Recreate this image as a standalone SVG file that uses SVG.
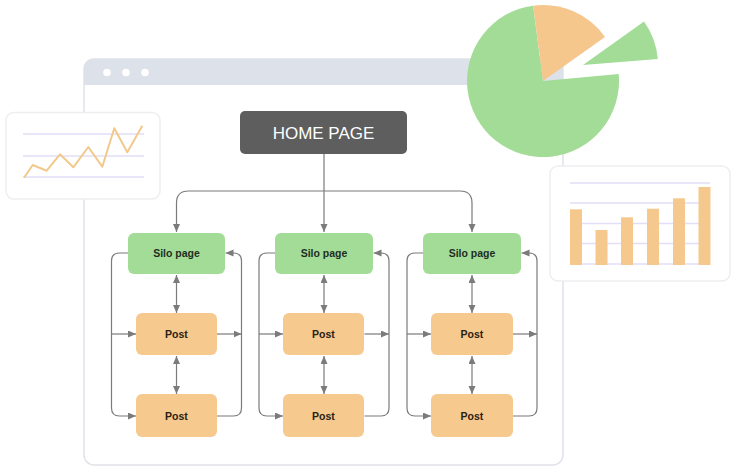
<svg xmlns="http://www.w3.org/2000/svg" width="736" height="472" viewBox="0 0 736 472">
<defs>
<marker id="ah" markerUnits="userSpaceOnUse" markerWidth="8" markerHeight="8" refX="8" refY="3.5" orient="auto-start-reverse"><path d="M0,0 L8,3.5 L0,7 z" fill="#7b7b7b"/></marker>
</defs>
<style>
.card{fill:#ffffff;stroke:#eeeef2;stroke-width:1.5}
.grid{stroke:#e2def8;stroke-width:1.6}
.bar{fill:#f5c98e}
.silo{fill:#a3dc97}
.post{fill:#f6c98e}
.lbl{font-family:"Liberation Sans",Arial,sans-serif;font-size:10.5px;font-weight:bold;text-anchor:middle}
.conn path{fill:none;stroke:#7b7b7b;stroke-width:1.2}
</style>
<!-- browser window -->
<g id="window">
<rect x="84" y="59" width="479" height="406" rx="10" fill="#ffffff" stroke="#dfe2e9" stroke-width="1.5"/>
<path d="M84,85 V69 Q84,59 94,59 H553 Q563,59 563,69 V85 Z" fill="#dde1ea"/>
<circle cx="107" cy="72.5" r="3.8" fill="#ffffff"/>
<circle cx="126" cy="72.5" r="3.8" fill="#ffffff"/>
<circle cx="145" cy="72.5" r="3.8" fill="#ffffff"/>
</g>
<!-- pie chart -->
<g id="pie">
<path d="M543,81 L618.7,74 A76,76 0 1 1 533.1,5.7 Z" fill="#a2dc96"/>
<path d="M543,81 L533.1,5.7 A76,76 0 0 1 605,37 Z" fill="#f5c78d"/>
<path d="M583,65 L644,21.5 A75,75 0 0 1 657.8,59 Z" fill="#a2dc96"/>
</g>
<!-- line chart card -->
<g id="line-chart">
<rect class="card" x="6" y="112.5" width="154" height="86.5" rx="8"/>
<line class="grid" x1="23" y1="134" x2="144" y2="134"/>
<line class="grid" x1="23" y1="156" x2="144" y2="156"/>
<line class="grid" x1="23" y1="177" x2="144" y2="177"/>
<polyline points="24,177.7 32.7,165 46.7,170.7 60,154.3 73.3,167.3 88.3,147 102.3,166.7 114.3,128.3 127.3,152.3 142.3,125.7" fill="none" stroke="#f2c98c" stroke-width="2" stroke-linejoin="round"/>
</g>
<!-- bar chart card -->
<g id="bar-chart">
<rect class="card" x="550" y="166" width="180" height="115" rx="8"/>
<line class="grid" x1="570" y1="183" x2="710" y2="183"/>
<line class="grid" x1="570" y1="203" x2="710" y2="203"/>
<line class="grid" x1="570" y1="223.5" x2="710" y2="223.5"/>
<line class="grid" x1="570" y1="243.5" x2="710" y2="243.5"/>
<line class="grid" x1="570" y1="264" x2="710" y2="264"/>
<rect class="bar" x="570" y="209.3" width="12" height="55.7"/>
<rect class="bar" x="595.5" y="230" width="12" height="35"/>
<rect class="bar" x="621" y="217.3" width="12" height="47.7"/>
<rect class="bar" x="647" y="208.7" width="12" height="56.3"/>
<rect class="bar" x="673" y="198.3" width="12" height="66.7"/>
<rect class="bar" x="698.5" y="187" width="12" height="78"/>
</g>
<!-- connectors -->
<g id="connectors" class="conn">
<path d="M324,154 V232" marker-end="url(#ah)"/>
<path d="M176.5,232 V203 Q176.5,191 188.5,191 H460 Q472,191 472,203 V232" marker-start="url(#ah)" marker-end="url(#ah)"/>
<!-- column 1 -->
<path d="M176.5,275 V313" marker-start="url(#ah)" marker-end="url(#ah)"/>
<path d="M176.5,356 V394" marker-start="url(#ah)" marker-end="url(#ah)"/>
<path d="M128,253 H119.5 Q111.5,253 111.5,261 V408 Q111.5,416 119.5,416 H136" marker-end="url(#ah)"/>
<path d="M111.5,334 H136" marker-end="url(#ah)"/>
<path d="M217,416 H233.5 Q241.5,416 241.5,408 V261 Q241.5,253 233.5,253 H225.5" marker-end="url(#ah)"/>
<path d="M217,334 H241.5" marker-end="url(#ah)"/>
<!-- column 2 -->
<path d="M324,275 V313" marker-start="url(#ah)" marker-end="url(#ah)"/>
<path d="M324,356 V394" marker-start="url(#ah)" marker-end="url(#ah)"/>
<path d="M275,253 H267 Q259,253 259,261 V408 Q259,416 267,416 H283" marker-end="url(#ah)"/>
<path d="M259,334 H283" marker-end="url(#ah)"/>
<path d="M364.5,416 H381 Q389,416 389,408 V261 Q389,253 381,253 H373.5" marker-end="url(#ah)"/>
<path d="M364.5,334 H389" marker-end="url(#ah)"/>
<!-- column 3 -->
<path d="M472,275 V313" marker-start="url(#ah)" marker-end="url(#ah)"/>
<path d="M472,356 V394" marker-start="url(#ah)" marker-end="url(#ah)"/>
<path d="M423,253 H415 Q407,253 407,261 V408 Q407,416 415,416 H431" marker-end="url(#ah)"/>
<path d="M407,334 H431" marker-end="url(#ah)"/>
<path d="M513,416 H529 Q537,416 537,408 V261 Q537,253 529,253 H521.5" marker-end="url(#ah)"/>
<path d="M513,334 H537" marker-end="url(#ah)"/>
</g>
<!-- nodes -->
<g id="home">
<rect x="240" y="111" width="167" height="43" rx="5" fill="#5e5e5e"/>
<text x="323.5" y="138.5" font-family="Liberation Sans,Arial,sans-serif" font-size="17" fill="#ffffff" text-anchor="middle">HOME PAGE</text>
</g>
<g id="silo1"><rect class="silo" x="128" y="233" width="97" height="41" rx="6"/><text class="lbl" x="176.5" y="257" fill="#1f2e1f">Silo page</text></g>
<g id="silo2"><rect class="silo" x="275" y="233" width="98" height="41" rx="6"/><text class="lbl" x="324" y="257" fill="#1f2e1f">Silo page</text></g>
<g id="silo3"><rect class="silo" x="423" y="233" width="98" height="41" rx="6"/><text class="lbl" x="472" y="257" fill="#1f2e1f">Silo page</text></g>
<g id="post1a"><rect class="post" x="136" y="313" width="81" height="42" rx="6"/><text class="lbl" x="176.5" y="338" fill="#2b2112">Post</text></g>
<g id="post1b"><rect class="post" x="136" y="394" width="81" height="43" rx="6"/><text class="lbl" x="176.5" y="419.5" fill="#2b2112">Post</text></g>
<g id="post2a"><rect class="post" x="283" y="313" width="81" height="42" rx="6"/><text class="lbl" x="323.5" y="338" fill="#2b2112">Post</text></g>
<g id="post2b"><rect class="post" x="283" y="394" width="81" height="43" rx="6"/><text class="lbl" x="323.5" y="419.5" fill="#2b2112">Post</text></g>
<g id="post3a"><rect class="post" x="431" y="313" width="82" height="42" rx="6"/><text class="lbl" x="472" y="338" fill="#2b2112">Post</text></g>
<g id="post3b"><rect class="post" x="431" y="394" width="82" height="43" rx="6"/><text class="lbl" x="472" y="419.5" fill="#2b2112">Post</text></g>
</svg>
